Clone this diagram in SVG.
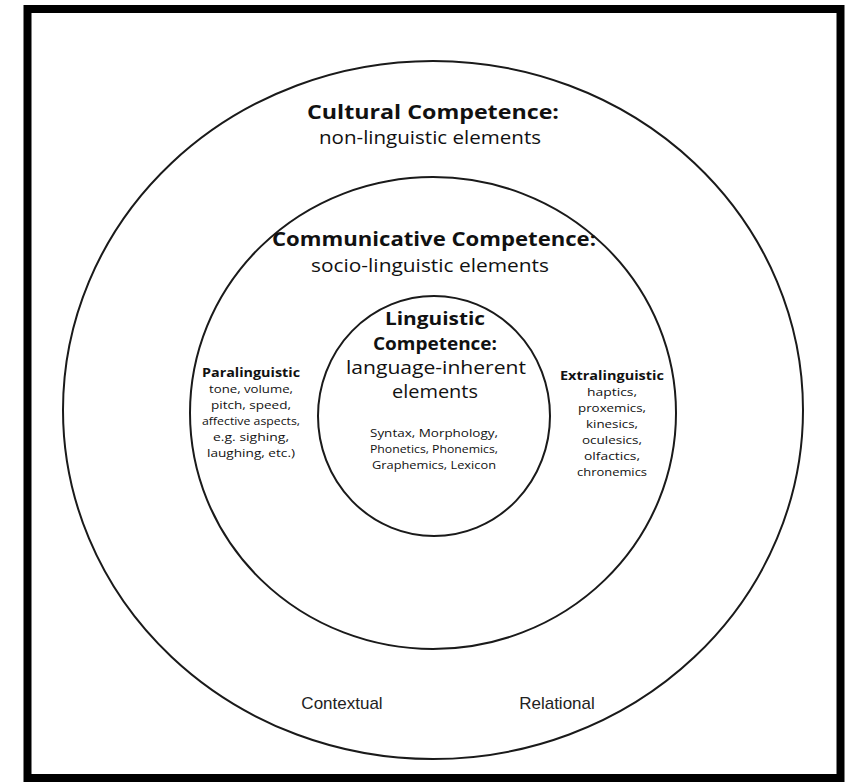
<svg xmlns="http://www.w3.org/2000/svg" width="846" height="783" viewBox="0 0 846 783">
<style>
.ring{fill:none;stroke:#1a1a1a;stroke-width:2}
.t{font-family:"Open Sans","Noto Sans","DejaVu Sans",sans-serif;fill:#111;text-anchor:middle}
.b{font-weight:bold}
.h1{font-size:19px}
.h2{font-size:18px}
.s{font-size:11.5px}
.a{font-family:"Liberation Sans",Arial,sans-serif;font-size:17px;fill:#222;text-anchor:middle}
</style>
<rect x="0" y="0" width="846" height="783" fill="#fff"/>
<rect x="27.5" y="9" width="813" height="769" fill="none" stroke="#000" stroke-width="8"/>
<g id="cultural">
<ellipse class="ring" cx="433" cy="410" rx="370" ry="349"/>
<text class="t b h1" x="433" y="119" textLength="252" lengthAdjust="spacingAndGlyphs">Cultural Competence:</text>
<text class="t h1" x="430" y="144" textLength="222" lengthAdjust="spacingAndGlyphs">non-linguistic elements</text>
</g>
<g id="communicative">
<ellipse class="ring" cx="433" cy="413" rx="243" ry="236"/>
<text class="t b h1" x="434" y="246" textLength="324" lengthAdjust="spacingAndGlyphs">Communicative Competence:</text>
<text class="t h1" x="430" y="272" textLength="238" lengthAdjust="spacingAndGlyphs">socio-linguistic elements</text>
</g>
<g id="linguistic">
<ellipse class="ring" cx="434" cy="416" rx="116" ry="120"/>
<text class="t b h2" x="435" y="325" textLength="100" lengthAdjust="spacingAndGlyphs">Linguistic</text>
<text class="t b h2" x="435" y="350" textLength="124" lengthAdjust="spacingAndGlyphs">Competence:</text>
<text class="t h2" x="436" y="374" textLength="180" lengthAdjust="spacingAndGlyphs">language-inherent</text>
<text class="t h2" x="435" y="398" textLength="86" lengthAdjust="spacingAndGlyphs">elements</text>
<text class="t s" x="434" y="437" textLength="128" lengthAdjust="spacingAndGlyphs">Syntax, Morphology,</text>
<text class="t s" x="434" y="453" textLength="128" lengthAdjust="spacingAndGlyphs">Phonetics, Phonemics,</text>
<text class="t s" x="434" y="469" textLength="124" lengthAdjust="spacingAndGlyphs">Graphemics, Lexicon</text>
</g>
<g id="paralinguistic">
<text class="t b s" x="251" y="377" textLength="98" lengthAdjust="spacingAndGlyphs">Paralinguistic</text>
<text class="t s" x="251" y="393" textLength="84" lengthAdjust="spacingAndGlyphs">tone, volume,</text>
<text class="t s" x="251" y="409" textLength="80" lengthAdjust="spacingAndGlyphs">pitch, speed,</text>
<text class="t s" x="251" y="425" textLength="98" lengthAdjust="spacingAndGlyphs">affective aspects,</text>
<text class="t s" x="251" y="441" textLength="76" lengthAdjust="spacingAndGlyphs">e.g. sighing,</text>
<text class="t s" x="251" y="457" textLength="88" lengthAdjust="spacingAndGlyphs">laughing, etc.)</text>
</g>
<g id="extralinguistic">
<text class="t b s" x="612" y="380" textLength="104" lengthAdjust="spacingAndGlyphs">Extralinguistic</text>
<text class="t s" x="612" y="396" textLength="50" lengthAdjust="spacingAndGlyphs">haptics,</text>
<text class="t s" x="612" y="412" textLength="68" lengthAdjust="spacingAndGlyphs">proxemics,</text>
<text class="t s" x="612" y="428" textLength="52" lengthAdjust="spacingAndGlyphs">kinesics,</text>
<text class="t s" x="612" y="444" textLength="60" lengthAdjust="spacingAndGlyphs">oculesics,</text>
<text class="t s" x="612" y="460" textLength="56" lengthAdjust="spacingAndGlyphs">olfactics,</text>
<text class="t s" x="612" y="476" textLength="70" lengthAdjust="spacingAndGlyphs">chronemics</text>
</g>
<g id="contextual">
<text class="a" x="342" y="709">Contextual</text>
</g>
<g id="relational">
<text class="a" x="557" y="709">Relational</text>
</g>
<g id="connectors"/>
</svg>
